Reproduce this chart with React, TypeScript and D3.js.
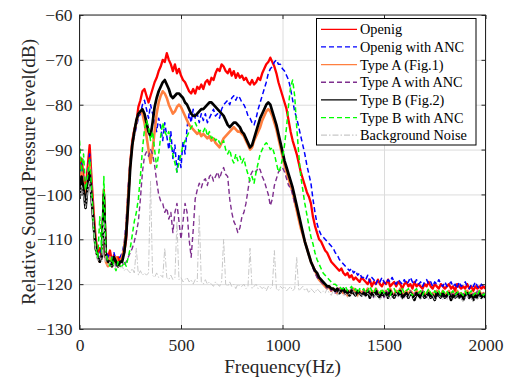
import React, { useEffect, useRef } from "react";
import * as d3 from "d3";

// spectra sampled every 10 Hz, 0..2000 Hz (201 values each), dB
const freqs = d3.range(0, 2001, 10);

const openig = [
  -97, -92, -96, -99, -94, -89, -97, -104, -110, -113, -112, -114, -99, -113, -114, -112.5, -115, -113.5, -115, -114,
  -115, -113.5, -113, -110, -101, -93, -88, -85.5, -84, -80.5, -79, -77, -76.5, -78, -79.5, -78, -76.5, -75, -74, -72.5,
  -71.5, -70, -70.5, -68.5, -70, -71, -72.5, -71, -73, -72, -73.5, -74.5, -75, -76, -77, -77.5, -76.5, -77.5, -76, -76.5,
  -75.5, -76.5, -75, -74.5, -75.5, -74, -74.5, -73, -72, -72.5, -71, -71.5, -72.5, -73, -72, -73.5, -72.5, -74, -73, -74,
  -73.5, -74.5, -74, -75, -75.5, -74.5, -75.5, -75, -74, -74.5, -73, -72, -71, -70.5, -69.5, -70.5, -71.5, -73, -75, -76.5,
  -78, -79.5, -81, -83.5, -86, -88, -89.5, -91, -93, -95, -96.5, -98, -99.5, -100.5, -102, -105, -107, -108.5, -110, -110.5,
  -111.5, -112.5, -113, -114, -115, -115.5, -116, -116.5, -117, -116.5, -117.5, -118, -117.5, -118.5, -118, -119, -118.5, -119, -119.5, -118.5,
  -119, -119.5, -120, -119, -120.5, -119.5, -120, -119, -120, -120.5, -119.5, -120, -119, -120.5, -120, -119.5, -120.5, -119.5, -120, -121,
  -120, -119.5, -120.5, -120, -121, -119.5, -120.5, -120, -120.5, -121, -120, -120.5, -119.5, -120.5, -121, -120, -120.5, -121, -120, -120.5,
  -121, -120.5, -120, -121, -120.5, -121.5, -120, -120.5, -121, -120.5, -121, -120, -121, -120.5, -121.5, -120.5, -121, -120.5, -121, -120.5,
  -121,
];

const openigAnc = [
  -99, -93, -97, -100, -95, -91, -98, -105, -111, -113, -113, -112, -101, -114, -113, -115, -114, -113, -115, -114,
  -114, -113, -111, -106, -98, -92, -89, -87, -85, -83, -82, -80, -79, -81, -83, -80, -82, -84, -86, -83,
  -85, -88, -84, -87, -90, -86, -92, -89, -95, -91, -94, -88, -91, -85, -82, -84, -81, -83, -82, -84,
  -82, -83.5, -82, -84, -83, -82, -81, -82.5, -82, -83, -81, -80, -79.5, -79, -80, -78.5, -78, -79, -78, -78.5,
  -79.5, -80, -81, -82.5, -83, -84, -84.5, -83, -81, -79.5, -78, -76.5, -75, -73, -72, -71.5, -70.5, -70, -71, -71,
  -72, -72.5, -73.5, -74.5, -76.5, -79, -81.5, -83, -85, -87, -89, -91, -93.5, -95.5, -97.5, -101, -104, -106.5, -108, -109,
  -109.5, -110, -110.5, -111, -111.5, -112, -113, -113.5, -114.5, -115, -115.5, -116, -116.5, -117, -116.5, -117.5, -117, -118, -117.5, -118.5,
  -118.5, -119, -118, -119.5, -118.5, -119, -120, -119, -119.5, -118.5, -119.5, -120, -119, -119.5, -118.5, -119.5, -120, -119, -119.5, -120,
  -119, -120, -119.5, -118.5, -119.5, -120, -119, -120, -119.5, -120.5, -119.5, -119, -120, -119.5, -120.5, -119.5, -120, -119, -120, -120.5,
  -119.5, -120.5, -120, -119.5, -120.5, -120, -121, -119.5, -120.5, -120, -119.5, -120.5, -121, -120, -120.5, -119.5, -120.5, -121, -120, -120.5,
  -120.5,
];

const typeA = [
  -100, -95, -98, -101, -97, -93, -100, -106, -112, -114, -115, -114, -104, -115, -116, -114, -116, -115, -114, -116,
  -115, -114, -112, -108, -100, -93, -89, -86, -84, -82, -81.5, -82, -84, -87, -90, -93, -90, -86, -82, -79.5,
  -78, -77, -77.5, -78.5, -80, -81, -82, -81.5, -80.5, -80, -80.5, -81.5, -82.5, -83.5, -84.5, -85, -85.5, -86, -86.5, -86,
  -87, -86.5, -87, -87.5, -87, -88, -87.5, -88.5, -89, -89.5, -88.5, -87.5, -87, -86.5, -86, -85.5, -85, -85.5, -86, -86,
  -86.5, -87, -88, -89, -90, -89.5, -88, -87, -86, -85, -83.5, -82.5, -81.5, -81, -81.5, -82.5, -84, -85.5, -87.5, -89.5,
  -91.5, -93.5, -95, -96.5, -98, -99.5, -101.5, -103.5, -105.5, -107.5, -109, -110.5, -112, -113.5, -115, -116, -117, -118, -119, -119.5,
  -120, -120.5, -121, -120.5, -121.5, -121, -121.5, -122, -121, -121.5, -122, -121.5, -122.5, -121.5, -122, -121, -122, -122.5, -121.5, -122,
  -121.5, -122, -121, -122.5, -121.5, -122, -121, -122, -122.5, -121.5, -122, -121.5, -122.5, -121, -122, -122.5, -121.5, -122, -121, -122.5,
  -122, -121.5, -122.5, -121.5, -122, -123, -121.5, -122, -122.5, -121.5, -122.5, -122, -121.5, -122.5, -122, -123, -121.5, -122, -122.5, -121.5,
  -122.5, -122, -121.5, -123, -122, -122.5, -121.5, -122.5, -122, -123, -122, -121.5, -122.5, -122, -123, -122, -122.5, -121.5, -122.5, -122,
  -122.5,
];

const typeAAnc = [
  -100, -97, -100, -102, -98, -96, -101, -107, -112, -114, -114, -113, -104, -114, -115, -115, -116, -115, -116, -115,
  -116, -115, -116, -115, -114, -113, -112, -110.5, -108.5, -106, -101, -95, -91.5, -90.5, -91.5, -90, -91, -93.5, -97, -100,
  -101.5, -102, -104, -103, -105.5, -104, -108.5, -104, -102, -106, -110, -106, -102, -104, -110, -114, -108, -101, -99, -97.5,
  -98.5, -97, -96.5, -98, -96, -95.5, -97, -96, -95, -96.5, -95, -94, -95.5, -96, -101, -104, -106, -107, -108.5, -107.5,
  -105, -104, -102, -99, -96, -95, -94.5, -95, -94, -94.5, -96, -97, -98.5, -100, -102.5, -101, -98, -96.5, -95, -94.5,
  -94, -95, -96.5, -98, -98.5, -100, -102, -103, -105, -107, -109, -110.5, -112, -113.5, -115, -116.5, -117.5, -118.5, -119, -119.5,
  -120, -120.5, -121, -120.5, -121.5, -121, -122, -121.5, -121, -122, -121.5, -122.5, -121.5, -122, -121, -122, -122.5, -121.5, -122, -122.5,
  -121.5, -122.5, -122, -121.5, -122.5, -123, -122, -121.5, -122.5, -122, -123, -121.5, -122, -122.5, -122, -123, -122, -121.5, -122.5, -122,
  -123, -122, -122.5, -121.5, -122.5, -122, -123, -122, -122.5, -121.5, -122.5, -123, -122, -122.5, -122, -121.5, -123, -122, -122.5, -122,
  -122.5, -123, -122, -122.5, -121.5, -122.5, -123, -122, -122.5, -122, -123, -122.5, -122, -123, -122, -122.5, -121.5, -122.5, -123, -122,
  -122.5,
];

const typeB = [
  -101, -96, -99, -103, -98, -95, -101, -107, -112, -114, -115, -114, -100, -114, -115, -115, -116, -114, -115, -116,
  -115, -115, -113, -109, -102, -94, -89, -86, -83.5, -82, -81.5, -81, -82, -84, -86, -87, -84, -80.5, -78.5, -77,
  -76, -75, -74.5, -75.5, -76.5, -78, -78.5, -78, -77.5, -77.5, -78, -78.5, -79.5, -80, -81, -82, -82.5, -82.5, -82, -81.5,
  -81, -81, -80.5, -80, -79.5, -79.5, -80, -80.5, -81, -81.5, -82, -82.5, -83.5, -84.5, -85, -84.5, -84, -84, -84.5, -85,
  -86, -86.5, -87.5, -88.5, -89.5, -89, -87.5, -86, -84.5, -83, -82, -81, -80, -79.5, -80, -81.5, -83, -84.5, -86.5, -88.5,
  -90.5, -92.5, -94, -95.5, -97, -98.5, -100.5, -102.5, -104.5, -106.5, -108.5, -110.5, -112, -113.5, -115, -116, -117, -117.5, -118.5, -119,
  -119.5, -120, -120.5, -120.5, -121, -121, -121.5, -121, -122, -121.5, -121, -122, -121.5, -122.5, -121.5, -122, -122.5, -121.5, -122, -122.5,
  -122, -122.5, -121.5, -123, -122, -122.5, -121.5, -122.5, -123, -122, -122.5, -122, -123, -121.5, -122.5, -123, -122, -122.5, -121.5, -123,
  -122.5, -122, -123, -122, -122.5, -123.5, -122, -122.5, -123, -122, -123, -122.5, -122, -123, -122.5, -123.5, -122, -122.5, -123, -122,
  -123, -122.5, -122, -123.5, -122.5, -123, -122, -123, -122.5, -123.5, -122.5, -122, -123, -122.5, -123.5, -122.5, -123, -122, -123, -122.5,
  -123,
];

const typeBAnc = [
  -88, -95, -91, -99, -96, -92, -99, -108, -112, -114, -105, -113, -96, -113, -115, -116, -114, -116, -117, -115,
  -116, -116, -115, -116, -114, -112, -109, -106, -104, -101, -96, -90, -85.5, -83.5, -85, -88, -86, -90, -94, -91,
  -87, -84, -86, -87, -86, -89, -91, -93, -95, -93, -91, -89, -88, -87, -86, -85, -84.5, -84, -85, -86,
  -85.5, -86, -85, -87, -86, -87.5, -87, -88, -87.5, -88.5, -89, -88, -90, -91, -90, -92, -93, -91, -92.5, -91.5,
  -93, -92, -94, -95.5, -97, -96, -97.5, -95, -93, -91, -90, -89, -88.5, -89, -90, -89.5, -91, -93, -95, -94,
  -92, -89, -85, -80, -76, -74.5, -78, -85, -91, -96, -99, -102, -104.5, -107, -109.5, -111, -113, -114.5, -115.5, -116.5,
  -117.5, -118, -118.5, -119, -119.5, -120, -120, -120.5, -120.5, -121, -121, -120.5, -121.5, -121, -120.5, -121.5, -121, -122, -121, -121.5,
  -121, -122, -121.5, -120.5, -121.5, -122, -121, -121.5, -122, -121, -122, -121.5, -121, -122.5, -121.5, -121, -122, -121.5, -122, -121,
  -122, -121.5, -121, -122, -122.5, -121.5, -121, -122, -121.5, -122.5, -121.5, -122, -121, -122, -122.5, -121.5, -122, -121.5, -122.5, -121.5,
  -122, -121.5, -122.5, -122, -121.5, -122.5, -122, -121.5, -122, -122.5, -121.5, -122.5, -122, -121.5, -122.5, -122, -122.5, -121.5, -122, -122.5,
  -122,
];

const background = [
  -101, -98, -100, -103, -99, -97, -102, -108, -113, -115, -114, -115, -106, -115, -116, -115, -116, -115.5, -116.5, -116,
  -116.5, -116, -117, -116.5, -117, -117.5, -116.5, -117.5, -112, -118, -117, -118, -117.5, -118, -117.5, -97, -118, -118.5, -117.5, -118.5,
  -118, -118.5, -112, -118.5, -119, -118, -119, -118.5, -106, -119, -118.5, -119.5, -119, -118.5, -119.5, -119, -120, -119, -119.5, -104.5,
  -119.5, -120, -119, -120, -119.5, -120, -120.5, -119.5, -120, -120.5, -119.5, -110, -120, -120.5, -119.5, -120.5, -120, -121, -120, -120.5,
  -120.5, -120, -121, -120.5, -112, -121, -120.5, -120, -121, -120.5, -121, -120.5, -121.5, -120.5, -121, -120.5, -112.5, -121, -121.5, -120.5,
  -121, -120.5, -121.5, -121, -120.5, -121.5, -121, -114, -121.5, -121, -120.5, -121.5, -121, -122, -121, -121.5, -122, -121, -121.5, -122,
  -121.5, -122, -121, -122, -122.5, -121.5, -122, -122.5, -121.5, -122, -122.5, -122, -123, -122, -122.5, -121.5, -122.5, -123, -122, -122.5,
  -122.5, -123, -122, -122.5, -123, -122, -123, -122.5, -123.5, -122.5, -122, -123, -122.5, -123.5, -122.5, -123, -122, -123, -122.5, -123.5,
  -123, -122.5, -123, -122, -123.5, -123, -122.5, -123, -123.5, -122.5, -123, -122.5, -123.5, -123, -122.5, -123.5, -123, -122.5, -123, -123.5,
  -123, -123.5, -122.5, -123, -123.5, -123, -122.5, -123.5, -123, -124, -123, -122.5, -123.5, -123, -124, -123, -123.5, -122.5, -123.5, -123,
  -123.5,
];

const seriesNames = [
  "Openig",
  "Openig with ANC",
  "Type A (Fig.1)",
  "Type A with ANC",
  "Type B (Fig.2)",
  "Type B with ANC",
  "Background Noise",
];
const seriesValues = [openig, openigAnc, typeA, typeAAnc, typeB, typeBAnc, background];

const xTicks = [0, 500, 1000, 1500, 2000];
const yTicks = [-60, -70, -80, -90, -100, -110, -120, -130];

// line look per series (same order as names)
const styles = [
  { color: "#ff0000", width: 2.3, dash: null },
  { color: "#0000ff", width: 1.5, dash: "5,3" },
  { color: "#ff7f3f", width: 2.6, dash: null },
  { color: "#7e2f8e", width: 1.4, dash: "5,3" },
  { color: "#000000", width: 2.7, dash: null },
  { color: "#00ff00", width: 1.5, dash: "5,3" },
  { color: "#c8c8c8", width: 1, dash: "6,2,1.5,2" },
];

const SpectrumChart = () => {
  const svgRef = useRef(null);

  useEffect(() => {
    const svg = d3.select(svgRef.current);
    svg.selectAll("*").remove();

    const width = 509;
    const height = 378;
    const margins = { top: 15, right: 23.5, bottom: 49, left: 79.5 };
    const font = "'Liberation Serif', 'Times New Roman', serif";
    const axisColor = "#262626";

    svg.attr("width", width).attr("height", height);

    const x = d3
      .scaleLinear()
      .domain([0, 2000])
      .range([margins.left, width - margins.right]);
    const y = d3
      .scaleLinear()
      .domain([-130, -60])
      .range([height - margins.bottom, margins.top]);

    const plotH = height - margins.bottom - margins.top;
    const plotW = width - margins.right - margins.left;

    // grid lines
    svg
      .append("g")
      .attr("transform", `translate(0, ${height - margins.bottom})`)
      .call(d3.axisBottom(x).tickValues(xTicks).tickSize(-plotH).tickFormat(() => ""))
      .call((g) => g.select(".domain").remove())
      .selectAll("line")
      .attr("stroke", "#dcdcdc");
    svg
      .append("g")
      .attr("transform", `translate(${margins.left}, 0)`)
      .call(d3.axisLeft(y).tickValues(yTicks).tickSize(-plotW).tickFormat(() => ""))
      .call((g) => g.select(".domain").remove())
      .selectAll("line")
      .attr("stroke", "#dcdcdc");

    // spectra
    svg
      .append("clipPath")
      .attr("id", "plot-clip")
      .append("rect")
      .attr("x", margins.left)
      .attr("y", margins.top)
      .attr("width", plotW)
      .attr("height", plotH);

    const line = d3
      .line()
      .x((d) => x(d[0]))
      .y((d) => y(d[1]));

    const lines = svg.append("g").attr("clip-path", "url(#plot-clip)");
    seriesValues.forEach((vals, i) => {
      const pts = freqs.map((f, j) => [f, vals[j]]).filter((p) => p[1] !== undefined);
      lines
        .append("path")
        .datum(pts)
        .attr("fill", "none")
        .attr("stroke", styles[i].color)
        .attr("stroke-width", styles[i].width)
        .attr("stroke-linejoin", "round")
        .attr("stroke-dasharray", styles[i].dash)
        .attr("d", line);
    });

    // axes box
    svg
      .append("rect")
      .attr("x", margins.left)
      .attr("y", margins.top)
      .attr("width", plotW)
      .attr("height", plotH)
      .attr("fill", "none")
      .attr("stroke", axisColor)
      .attr("stroke-width", 1);

    const styleAxis = (g) => {
      g.select(".domain").remove();
      g.selectAll("line").attr("stroke", axisColor);
      g.selectAll("text")
        .attr("fill", axisColor)
        .style("font-family", font)
        .style("font-size", "17.5px");
    };

    svg
      .append("g")
      .attr("transform", `translate(0, ${height - margins.bottom})`)
      .call(d3.axisBottom(x).tickValues(xTicks).tickSize(-4).tickPadding(10).tickFormat(d3.format("d")))
      .call(styleAxis);
    svg
      .append("g")
      .attr("transform", `translate(0, ${margins.top})`)
      .call(d3.axisTop(x).tickValues(xTicks).tickSize(-4).tickFormat(() => ""))
      .call(styleAxis);
    svg
      .append("g")
      .attr("transform", `translate(${margins.left}, 0)`)
      .call(d3.axisLeft(y).tickValues(yTicks).tickSize(-4).tickPadding(7).tickFormat(d3.format("d")))
      .call(styleAxis);
    svg
      .append("g")
      .attr("transform", `translate(${width - margins.right}, 0)`)
      .call(d3.axisRight(y).tickValues(yTicks).tickSize(-4).tickFormat(() => ""))
      .call(styleAxis);

    // axis titles
    svg
      .append("text")
      .attr("x", x(1000))
      .attr("y", 373)
      .attr("text-anchor", "middle")
      .attr("fill", axisColor)
      .style("font-family", font)
      .style("font-size", "19.3px")
      .text("Frequency(Hz)");
    svg
      .append("text")
      .attr("transform", `translate(35, ${(margins.top + height - margins.bottom) / 2}) rotate(-90)`)
      .attr("text-anchor", "middle")
      .attr("fill", axisColor)
      .style("font-family", font)
      .style("font-size", "19.3px")
      .text("Relative Sound Pressure level(dB)");

    // legend
    const legend = svg.append("g");
    legend
      .append("rect")
      .attr("x", 316.5)
      .attr("y", 18.5)
      .attr("width", 159.5)
      .attr("height", 126.5)
      .attr("fill", "#ffffff")
      .attr("stroke", "#000000")
      .attr("stroke-width", 1);

    seriesNames.forEach((name, i) => {
      const ly = 29.3 + i * 17.65;
      legend
        .append("line")
        .attr("x1", 321)
        .attr("x2", 357)
        .attr("y1", ly)
        .attr("y2", ly)
        .attr("stroke", styles[i].color)
        .attr("stroke-width", 1.3)
        .attr("stroke-dasharray", styles[i].dash);
      legend
        .append("text")
        .attr("x", 360)
        .attr("y", ly + 5)
        .attr("fill", "#000000")
        .style("font-family", font)
        .style("font-size", "14.3px")
        .text(name);
    });
  }, []);

  return (
    <svg
      ref={svgRef}
      style={{ position: "absolute", left: 0, top: 0, background: "#ffffff" }}
    ></svg>
  );
};

export default function App() {
  return <SpectrumChart />;
}
